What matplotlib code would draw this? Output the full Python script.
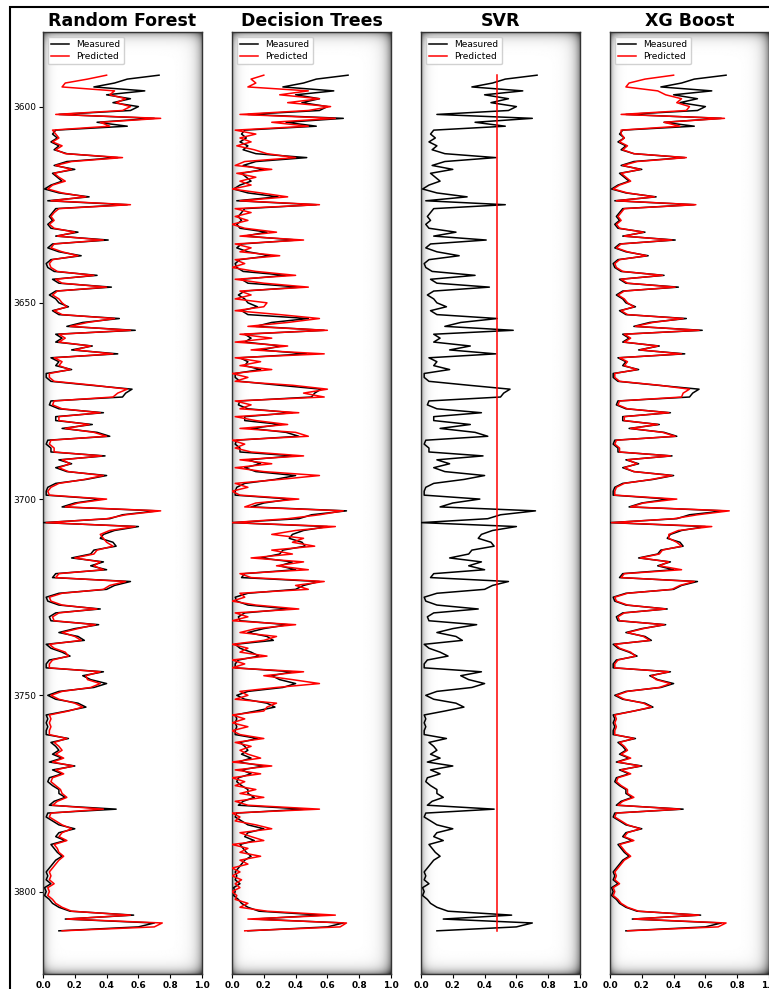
import numpy as np
import matplotlib
matplotlib.use('Agg')
import matplotlib.pyplot as plt
from matplotlib.patches import Rectangle

# ==========================================
# Data
# ==========================================
depth = np.arange(3592, 3811)

measured = [
    0.73, 0.53, 0.45, 0.32, 0.64, 0.40, 0.55, 0.44, 0.60, 0.55,
    0.10, 0.70, 0.34, 0.53, 0.08, 0.06, 0.09, 0.05, 0.10, 0.07,
    0.15, 0.47, 0.15, 0.07, 0.20, 0.06, 0.09, 0.12, 0.05, 0.01,
    0.10, 0.29, 0.03, 0.53, 0.08, 0.06, 0.04, 0.06, 0.03, 0.05,
    0.22, 0.08, 0.41, 0.06, 0.03, 0.10, 0.24, 0.05, 0.02, 0.03,
    0.07, 0.34, 0.06, 0.10, 0.43, 0.08, 0.04, 0.08, 0.10, 0.16,
    0.06, 0.10, 0.48, 0.25, 0.15, 0.58, 0.08, 0.12, 0.08, 0.31,
    0.18, 0.47, 0.05, 0.10, 0.08, 0.18, 0.02, 0.02, 0.05, 0.30,
    0.56, 0.52, 0.50, 0.05, 0.04, 0.10, 0.38, 0.08, 0.08, 0.31,
    0.12, 0.34, 0.42, 0.03, 0.02, 0.05, 0.05, 0.39, 0.10, 0.18,
    0.08, 0.15, 0.40, 0.27, 0.08, 0.03, 0.02, 0.02, 0.37, 0.20,
    0.12, 0.72, 0.50, 0.42, 0.00, 0.60, 0.45, 0.38, 0.36, 0.44,
    0.46, 0.32, 0.30, 0.18, 0.38, 0.30, 0.40, 0.08, 0.06, 0.55,
    0.45, 0.40, 0.10, 0.02, 0.03, 0.10, 0.36, 0.08, 0.04, 0.05,
    0.35, 0.20, 0.10, 0.22, 0.26, 0.02, 0.05, 0.12, 0.17, 0.04,
    0.02, 0.02, 0.38, 0.25, 0.30, 0.40, 0.32, 0.10, 0.03, 0.08,
    0.22, 0.27, 0.15, 0.02, 0.03, 0.02, 0.03, 0.02, 0.02, 0.16,
    0.05, 0.08, 0.10, 0.06, 0.12, 0.04, 0.20, 0.06, 0.12, 0.04,
    0.03, 0.06, 0.10, 0.10, 0.14, 0.07, 0.04, 0.46, 0.03, 0.02,
    0.06, 0.10, 0.20, 0.10, 0.08, 0.14, 0.05, 0.07, 0.09, 0.12,
    0.08, 0.06, 0.04, 0.02, 0.03, 0.02, 0.05, 0.01, 0.02, 0.01,
    0.04, 0.06, 0.10, 0.17, 0.57, 0.14, 0.70, 0.60, 0.10,
]

pred_rf = [
    0.40, 0.28, 0.14, 0.12, 0.45, 0.42, 0.52, 0.46, 0.55, 0.50,
    0.08, 0.74, 0.36, 0.42, 0.06, 0.08, 0.10, 0.06, 0.12, 0.08,
    0.14, 0.50, 0.18, 0.08, 0.18, 0.07, 0.10, 0.14, 0.06, 0.03,
    0.12, 0.27, 0.05, 0.55, 0.10, 0.07, 0.05, 0.07, 0.04, 0.07,
    0.20, 0.09, 0.38, 0.07, 0.05, 0.12, 0.22, 0.06, 0.04, 0.05,
    0.09, 0.32, 0.08, 0.12, 0.40, 0.09, 0.06, 0.10, 0.12, 0.15,
    0.07, 0.12, 0.45, 0.28, 0.17, 0.55, 0.10, 0.14, 0.10, 0.30,
    0.20, 0.44, 0.07, 0.12, 0.10, 0.17, 0.04, 0.04, 0.07, 0.32,
    0.53, 0.47, 0.44, 0.07, 0.06, 0.12, 0.36, 0.10, 0.10, 0.29,
    0.14, 0.32, 0.40, 0.05, 0.04, 0.07, 0.07, 0.37, 0.12, 0.17,
    0.10, 0.16, 0.38, 0.26, 0.10, 0.05, 0.03, 0.04, 0.40, 0.22,
    0.14, 0.74, 0.52, 0.40, 0.02, 0.58, 0.42, 0.36, 0.38, 0.40,
    0.44, 0.34, 0.32, 0.20, 0.36, 0.32, 0.38, 0.10, 0.08, 0.52,
    0.42, 0.38, 0.12, 0.04, 0.05, 0.12, 0.34, 0.10, 0.06, 0.07,
    0.33, 0.22, 0.12, 0.20, 0.24, 0.04, 0.07, 0.14, 0.16, 0.06,
    0.04, 0.04, 0.36, 0.27, 0.28, 0.36, 0.30, 0.12, 0.05, 0.10,
    0.20, 0.25, 0.16, 0.04, 0.05, 0.04, 0.05, 0.04, 0.04, 0.15,
    0.07, 0.10, 0.12, 0.08, 0.13, 0.06, 0.19, 0.08, 0.13, 0.06,
    0.05, 0.08, 0.11, 0.12, 0.15, 0.09, 0.06, 0.38, 0.05, 0.04,
    0.08, 0.12, 0.18, 0.12, 0.10, 0.15, 0.07, 0.09, 0.10, 0.13,
    0.10, 0.08, 0.06, 0.04, 0.05, 0.04, 0.07, 0.03, 0.04, 0.03,
    0.06, 0.08, 0.12, 0.18, 0.55, 0.15, 0.75, 0.70, 0.12,
]

pred_dt = [
    0.20, 0.12, 0.15, 0.10, 0.48, 0.30, 0.55, 0.35, 0.62, 0.48,
    0.05, 0.65, 0.25, 0.48, 0.02, 0.15, 0.05, 0.12, 0.03, 0.14,
    0.22, 0.40, 0.08, 0.02, 0.25, 0.03, 0.15, 0.05, 0.12, 0.00,
    0.18, 0.35, 0.05, 0.55, 0.02, 0.12, 0.02, 0.10, 0.00, 0.08,
    0.28, 0.05, 0.45, 0.02, 0.12, 0.05, 0.30, 0.02, 0.08, 0.00,
    0.15, 0.40, 0.02, 0.20, 0.48, 0.05, 0.12, 0.02, 0.22, 0.20,
    0.02, 0.30, 0.55, 0.35, 0.10, 0.60, 0.05, 0.25, 0.02, 0.35,
    0.12, 0.58, 0.02, 0.18, 0.05, 0.25, 0.00, 0.10, 0.02, 0.38,
    0.60, 0.45, 0.58, 0.02, 0.12, 0.05, 0.42, 0.02, 0.15, 0.35,
    0.05, 0.40, 0.48, 0.00, 0.08, 0.02, 0.12, 0.45, 0.05, 0.25,
    0.02, 0.20, 0.55, 0.30, 0.02, 0.10, 0.00, 0.05, 0.42, 0.15,
    0.08, 0.70, 0.55, 0.35, 0.00, 0.65, 0.40, 0.25, 0.45, 0.38,
    0.52, 0.25, 0.38, 0.12, 0.45, 0.28, 0.48, 0.05, 0.12, 0.58,
    0.40, 0.48, 0.05, 0.08, 0.00, 0.15, 0.42, 0.02, 0.10, 0.00,
    0.40, 0.15, 0.05, 0.28, 0.20, 0.00, 0.10, 0.05, 0.22, 0.00,
    0.08, 0.00, 0.45, 0.20, 0.38, 0.55, 0.28, 0.05, 0.10, 0.02,
    0.28, 0.22, 0.20, 0.00, 0.08, 0.00, 0.10, 0.00, 0.05, 0.20,
    0.02, 0.12, 0.05, 0.10, 0.18, 0.00, 0.25, 0.02, 0.18, 0.00,
    0.08, 0.02, 0.15, 0.05, 0.20, 0.02, 0.10, 0.55, 0.00, 0.05,
    0.02, 0.15, 0.25, 0.05, 0.12, 0.20, 0.00, 0.10, 0.05, 0.18,
    0.05, 0.10, 0.00, 0.05, 0.00, 0.06, 0.02, 0.05, 0.00, 0.03,
    0.02, 0.10, 0.05, 0.22, 0.65, 0.10, 0.72, 0.68, 0.08,
]

svr_value = 0.475  # SVR prediction is flat over the whole interval

pred_xgb = [
    0.40, 0.22, 0.12, 0.10, 0.30, 0.35, 0.45, 0.42, 0.50, 0.48,
    0.07, 0.72, 0.34, 0.44, 0.07, 0.07, 0.09, 0.06, 0.11, 0.08,
    0.15, 0.48, 0.17, 0.08, 0.19, 0.07, 0.10, 0.13, 0.06, 0.02,
    0.11, 0.28, 0.04, 0.54, 0.09, 0.07, 0.05, 0.07, 0.04, 0.06,
    0.21, 0.09, 0.39, 0.07, 0.04, 0.11, 0.23, 0.06, 0.03, 0.04,
    0.08, 0.33, 0.07, 0.11, 0.41, 0.09, 0.05, 0.09, 0.11, 0.15,
    0.07, 0.11, 0.46, 0.27, 0.16, 0.56, 0.09, 0.13, 0.09, 0.30,
    0.19, 0.45, 0.06, 0.11, 0.09, 0.17, 0.03, 0.03, 0.06, 0.31,
    0.50, 0.46, 0.45, 0.06, 0.05, 0.11, 0.37, 0.09, 0.09, 0.30,
    0.13, 0.33, 0.41, 0.04, 0.03, 0.06, 0.06, 0.38, 0.11, 0.17,
    0.09, 0.15, 0.39, 0.26, 0.09, 0.04, 0.03, 0.03, 0.42, 0.21,
    0.13, 0.75, 0.55, 0.40, 0.01, 0.64, 0.43, 0.37, 0.37, 0.42,
    0.45, 0.33, 0.31, 0.19, 0.37, 0.31, 0.45, 0.09, 0.07, 0.53,
    0.44, 0.39, 0.11, 0.03, 0.04, 0.11, 0.35, 0.09, 0.05, 0.06,
    0.34, 0.21, 0.11, 0.21, 0.25, 0.03, 0.06, 0.13, 0.16, 0.05,
    0.03, 0.03, 0.37, 0.26, 0.29, 0.38, 0.31, 0.11, 0.04, 0.09,
    0.21, 0.26, 0.15, 0.03, 0.04, 0.03, 0.04, 0.03, 0.03, 0.15,
    0.06, 0.09, 0.11, 0.07, 0.13, 0.05, 0.19, 0.07, 0.13, 0.05,
    0.04, 0.07, 0.11, 0.11, 0.15, 0.08, 0.05, 0.44, 0.04, 0.03,
    0.07, 0.11, 0.19, 0.11, 0.09, 0.15, 0.06, 0.08, 0.10, 0.13,
    0.09, 0.07, 0.05, 0.03, 0.04, 0.03, 0.06, 0.02, 0.03, 0.02,
    0.05, 0.07, 0.11, 0.18, 0.56, 0.15, 0.73, 0.68, 0.11,
]

titles = ['Random Forest', 'Decision Trees', 'SVR', 'XG Boost']
predictions = [pred_rf, pred_dt, [svr_value] * len(depth), pred_xgb]

# ==========================================
# Plot
# ==========================================
fig = plt.figure(figsize=(7.69, 9.89), dpi=100)

# outer frame around the whole figure
fig.patches.append(Rectangle((0.013, -0.05), 1.1, 1.043, transform=fig.transFigure,
                             fill=False, edgecolor='black', linewidth=1.5))

# soft grey vignette used as axes background
gx = np.linspace(0, 1, 200)[None, :]
gy = np.linspace(0, 1, 900)[:, None]
shade = (1 - 0.35 * np.exp(-gx / 0.022) - 0.45 * np.exp(-(1 - gx) / 0.035)
         - 0.40 * np.exp(-gy / 0.005) - 0.40 * np.exp(-(1 - gy) / 0.005))
shade = np.clip(shade, 0, 1)

lefts = [43, 232, 421, 610]
W, H = 769, 989
axes = []
for i, (title, pred) in enumerate(zip(titles, predictions)):
    ax = fig.add_axes([lefts[i] / W, 1 - 974 / H, 159 / W, 942 / H],
                      sharey=axes[0] if axes else None)
    axes.append(ax)

    ax.plot(measured, depth, color='black', linewidth=1.1, label='Measured', zorder=3)
    ax.plot(pred, depth, color='red', linewidth=1.1, label='Predicted', zorder=4)

    ax.set_xlim(0, 1)
    ax.imshow(shade, extent=(0, 1, 3821, 3581), aspect='auto', cmap='gray',
              vmin=0, vmax=1, zorder=0, interpolation='bilinear')
    ax.set_ylim(3821, 3581)

    ax.set_title(title, fontsize=12.5, fontweight='bold', pad=4)
    ax.legend(loc='upper left', fontsize=6.5, framealpha=0.9, borderpad=0.4,
              handlelength=2.0, labelspacing=0.3)

    ax.set_xticks([0.0, 0.2, 0.4, 0.6, 0.8, 1.0])
    ax.tick_params(axis='x', labelsize=6.5, pad=2, length=3)
    for lbl in ax.get_xticklabels():
        lbl.set_fontweight('bold')
    for sp in ax.spines.values():
        sp.set_color('#333333')
        sp.set_linewidth(1.0)

    if i == 0:
        ax.set_yticks([3600, 3650, 3700, 3750, 3800])
        ax.tick_params(axis='y', labelsize=6.5, pad=2, length=3)
    else:
        ax.tick_params(axis='y', left=False, labelleft=False)

plt.savefig('out.png', dpi=100)
